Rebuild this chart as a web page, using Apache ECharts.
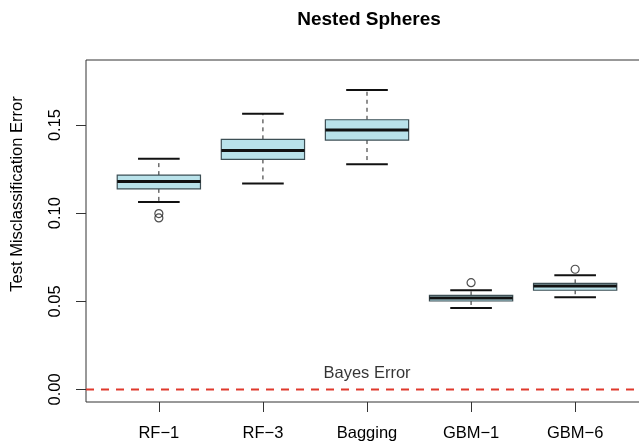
<!DOCTYPE html>
<html>
<head>
<meta charset="utf-8">
<script src="https://cdn.jsdelivr.net/npm/echarts@6/dist/echarts.min.js"></script>
<style>html,body{margin:0;padding:0;background:#fff}#c{width:639px;height:444px}</style>
</head>
<body>
<div id="c"></div>
<script>
// ---- data ----
const categories = ['RF\u22121', 'RF\u22123', 'Bagging', 'GBM\u22121', 'GBM\u22126'];
const whiskerLow  = [0.1063, 0.1169, 0.1278, 0.0462, 0.0523];
const quartile1   = [0.1138, 0.1305, 0.1415, 0.0502, 0.0563];
const medians     = [0.1180, 0.1356, 0.1472, 0.0519, 0.0587];
const quartile3   = [0.1216, 0.1419, 0.1530, 0.0534, 0.0602];
const whiskerHigh = [0.1309, 0.1564, 0.1699, 0.0563, 0.0648];
const outlierGroup = [1, 1, 4, 5];
const outlierValue = [0.0998, 0.0973, 0.0606, 0.0682];
const yTicks = [0, 0.05, 0.10, 0.15];
const bayesError = 0;
const bayesLabel = 'Bayes Error';

// ---- build ----
const boxData = categories.map((c, i) => [i + 1, whiskerLow[i], quartile1[i], medians[i], quartile3[i], whiskerHigh[i]]);
const outlierData = outlierGroup.map((g, i) => [g, outlierValue[i]]);
const xPositions = categories.map((c, i) => i + 1);
const FONT = 'Liberation Sans, Arial, Helvetica, sans-serif';
const FS = 16.5;
const BOX_W = 0.8, CAP_W = 0.4;

const chart = echarts.init(document.getElementById('c'), null, {renderer: 'canvas'});
chart.setOption({
  animation: false,
  backgroundColor: '#ffffff',
  title: {
    text: 'Nested Spheres', left: 364, top: 5, textAlign: 'center',
    textStyle: {fontFamily: FONT, fontSize: 19, fontWeight: 'bold', color: '#000'}
  },
  grid: {
    left: 86, top: 60, right: -9, bottom: 42,
    outerBoundsMode: 'none', containLabel: false,
    show: true, borderColor: '#333', borderWidth: 1, backgroundColor: 'transparent'
  },
  xAxis: {
    type: 'value', min: 0.3, max: 5.7,
    axisLine: {show: false, onZero: false},
    splitLine: {show: false},
    axisTick: {show: true, customValues: xPositions, length: 10, lineStyle: {color: '#333', width: 1}},
    axisLabel: {
      customValues: xPositions, margin: 23,
      formatter: v => categories[Math.round(v) - 1] || '',
      fontFamily: FONT, fontSize: FS, color: '#000'
    }
  },
  yAxis: {
    type: 'value', min: -0.0071, max: 0.1869,
    name: 'Test Misclassification Error', nameLocation: 'middle', nameRotate: 90, nameGap: 60,
    nameTextStyle: {fontFamily: FONT, fontSize: FS, color: '#000', padding: [0, 0, 0, 74]},
    axisLine: {show: false, onZero: false},
    splitLine: {show: false},
    axisTick: {show: true, customValues: yTicks, length: 10, lineStyle: {color: '#333', width: 1}},
    axisLabel: {
      customValues: yTicks, rotate: 90, margin: 22,
      formatter: v => v.toFixed(2),
      fontFamily: FONT, fontSize: FS, color: '#000'
    }
  },
  series: [
    {
      type: 'line', name: 'bayes', silent: true, symbol: 'none',
      data: [[0.3, bayesError], [5.7, bayesError]],
      lineStyle: {color: '#e0392c', width: 2, type: [8, 7]},
      z: 1
    },
    {
      type: 'scatter', name: 'bayesText', silent: true, symbolSize: 0,
      data: [[3, bayesError]],
      label: {
        show: true, position: 'top', distance: 8, formatter: bayesLabel,
        fontFamily: FONT, fontSize: FS, color: '#000'
      }
    },
    {
      type: 'custom', name: 'boxes',
      data: boxData,
      encode: {x: 0, y: [1, 2, 3, 4, 5]},
      renderItem: function (params, api) {
        const x = api.value(0);
        const lo = api.coord([x, api.value(1)]);
        const q1 = api.coord([x, api.value(2)]);
        const md = api.coord([x, api.value(3)]);
        const q3 = api.coord([x, api.value(4)]);
        const hi = api.coord([x, api.value(5)]);
        const hw = api.size([BOX_W, 0])[0] / 2;
        const cw = api.size([CAP_W, 0])[0] / 2;
        const cx = lo[0];
        const dash = {stroke: '#222', lineWidth: 1, lineDash: [4, 4]};
        const cap = {stroke: '#111', lineWidth: 2};
        return {
          type: 'group',
          children: [
            {type: 'line', shape: {x1: cx, y1: q3[1], x2: cx, y2: hi[1]}, style: dash},
            {type: 'line', shape: {x1: cx, y1: q1[1], x2: cx, y2: lo[1]}, style: dash},
            {type: 'line', shape: {x1: cx - cw, y1: hi[1], x2: cx + cw, y2: hi[1]}, style: cap},
            {type: 'line', shape: {x1: cx - cw, y1: lo[1], x2: cx + cw, y2: lo[1]}, style: cap},
            {type: 'rect', shape: {x: cx - hw, y: q3[1], width: 2 * hw, height: q1[1] - q3[1]},
              style: {fill: '#b9e2ea', stroke: '#3d4f55', lineWidth: 1.2}},
            {type: 'line', shape: {x1: cx - hw, y1: md[1], x2: cx + hw, y2: md[1]},
              style: {stroke: '#111', lineWidth: 3}}
          ]
        };
      },
      z: 3
    },
    {
      type: 'scatter', name: 'outliers',
      data: outlierData,
      symbol: 'circle', symbolSize: 8,
      itemStyle: {color: 'transparent', borderColor: '#222', borderWidth: 1.2},
      z: 4
    }
  ]
});
</script>
</body>
</html>
